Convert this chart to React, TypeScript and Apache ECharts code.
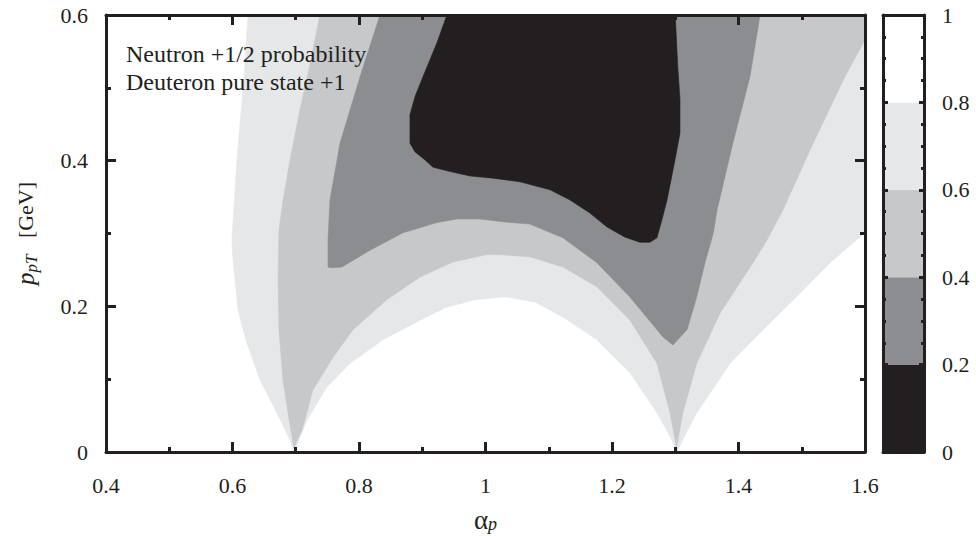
import React, { useEffect, useRef } from 'react';
import * as echarts from 'echarts';

// ---------- data ----------
const X_MIN = 0.4;
const X_MAX = 1.6;
const X_STEP = 0.2;
const Y_MIN = 0;
const Y_MAX = 0.6;
const Y_STEP = 0.2;
const COLORBAR_LEVELS = [0, 0.2, 0.4, 0.6, 0.8, 1];
const ANNOTATION_LINES = ['Neutron +1/2 probability', 'Deuteron pure state +1'];

// region where probability < 0.8  ([alpha_p, p_pT] boundary points)
const BELOW_08: number[][] = [
  [0.697, 0], [0.691, 0.016], [0.670, 0.054], [0.6435, 0.099], [0.621, 0.154],
  [0.6087, 0.195], [0.604, 0.236], [0.6008, 0.264], [0.599, 0.291], [0.607, 0.401],
  [0.618, 0.511], [0.6245, 0.6], [1.6, 0.6], [1.6, 0.301], [1.545, 0.260],
  [1.492, 0.213], [1.439, 0.168], [1.387, 0.122], [1.334, 0.054], [1.312, 0.017],
  [1.303, 0], [1.292, 0.021], [1.271, 0.054], [1.228, 0.109], [1.176, 0.154],
  [1.123, 0.185], [1.078, 0.206], [1.031, 0.213], [0.983, 0.209], [0.936, 0.198],
  [0.892, 0.179], [0.838, 0.154], [0.786, 0.122], [0.749, 0.089], [0.718, 0.044],
];

// region where probability < 0.6
const BELOW_06: number[][] = [
  [0.697, 0.006], [0.6877, 0.054], [0.6798, 0.099], [0.6735, 0.168], [0.672, 0.236],
  [0.6735, 0.305], [0.680, 0.346], [0.691, 0.401], [0.7067, 0.470], [0.7225, 0.532],
  [0.7383, 0.6], [1.6, 0.6], [1.6, 0.566], [1.568, 0.515], [1.518, 0.424],
  [1.470, 0.332], [1.445, 0.291], [1.423, 0.260], [1.371, 0.191], [1.334, 0.122],
  [1.312, 0.054], [1.302, 0.006], [1.2917, 0.054], [1.271, 0.122], [1.2285, 0.181],
  [1.176, 0.227], [1.1225, 0.254], [1.070, 0.268], [1.023, 0.271], [1.002, 0.271],
  [0.9486, 0.261], [0.896, 0.240], [0.844, 0.209], [0.7905, 0.168], [0.759, 0.130],
  [0.727, 0.085], [0.710, 0.030],
];

// region where probability < 0.4
const BELOW_04: number[][] = [
  [0.8332, 0.6], [0.8016, 0.515], [0.770, 0.424], [0.7541, 0.346], [0.751, 0.291],
  [0.751, 0.254], [0.7557, 0.253], [0.773, 0.254], [0.8174, 0.277], [0.8696, 0.301],
  [0.9233, 0.315], [0.955, 0.320], [0.991, 0.320], [1.0277, 0.316], [1.070, 0.313],
  [1.1225, 0.294], [1.176, 0.260], [1.228, 0.213], [1.2806, 0.158], [1.2964, 0.147],
  [1.3186, 0.168], [1.334, 0.213], [1.347, 0.260], [1.360, 0.300], [1.366, 0.332],
  [1.391, 0.424], [1.418, 0.515], [1.434, 0.6],
];

// region where probability < 0.2
const BELOW_02: number[][] = [
  [0.939, 0.6], [0.9233, 0.562], [0.901, 0.515], [0.8886, 0.488], [0.8806, 0.463],
  [0.8806, 0.424], [0.8886, 0.412], [0.9044, 0.401], [0.917, 0.391], [0.944, 0.385],
  [0.9755, 0.379], [1.012, 0.376], [1.0545, 0.371], [1.102, 0.360], [1.1336, 0.346],
  [1.165, 0.328], [1.192, 0.309], [1.2206, 0.295], [1.244, 0.288], [1.260, 0.288],
  [1.271, 0.294], [1.279, 0.319], [1.287, 0.346], [1.2996, 0.401], [1.3075, 0.438],
  [1.3075, 0.484], [1.304, 0.529], [1.300, 0.6],
];

const CONTOURS = [BELOW_08, BELOW_06, BELOW_04, BELOW_02];
const CONTOUR_LEVELS = [0.8, 0.6, 0.4, 0.2];

// ---------- styles ----------
const INK = '#231f20';
const BAND_FILLS = ['#231f20', '#8c8d90', '#c7c8ca', '#e6e7e8', '#ffffff'];
const FONT = 'Liberation Serif, DejaVu Serif, serif';

export default function App() {
  const ref = useRef<HTMLDivElement>(null);

  useEffect(() => {
    if (!ref.current) return;
    const chart = echarts.init(ref.current, undefined, { renderer: 'svg' });

    const axisLine = () => ({ show: true, onZero: false, lineStyle: { color: INK, width: 3 } });
    const mainTick = () => ({ show: true, inside: true, length: 10, lineStyle: { color: INK, width: 3 } });
    const mainMinor = () => ({ show: true, splitNumber: 2, length: 5, lineStyle: { color: INK, width: 3 } });
    const cbTick = () => ({ show: true, inside: true, length: 5, lineStyle: { color: INK, width: 3 } });
    const cbMinor = () => ({ show: true, splitNumber: 4, length: 3, lineStyle: { color: INK, width: 3 } });
    const labelStyle = { color: INK, fontFamily: FONT, fontSize: 22 };
    const noSplit = { show: false };

    const contourSeries = {
      type: 'custom',
      coordinateSystem: 'cartesian2d',
      xAxisIndex: 0,
      yAxisIndex: 0,
      silent: true,
      clip: true,
      z: 1,
      data: CONTOUR_LEVELS.map((lv) => [1.0, lv]),
      renderItem: (params: any, api: any) => {
        const pts = CONTOURS[params.dataIndex].map((p) => api.coord(p));
        const fill = BAND_FILLS[Math.round(CONTOUR_LEVELS[params.dataIndex] / 0.2) - 1];
        return {
          type: 'polygon',
          shape: { points: pts },
          style: { fill, stroke: fill, lineWidth: 0.6 },
        };
      },
    };

    const barSeries = COLORBAR_LEVELS.slice(0, -1).map((lo, i) => ({
      type: 'bar',
      xAxisIndex: 2,
      yAxisIndex: 2,
      stack: 'colorbar',
      silent: true,
      z: 1,
      barWidth: '100%',
      data: [COLORBAR_LEVELS[i + 1] - lo],
      itemStyle: { color: BAND_FILLS[i] },
    }));

    const option: any = {
      animation: false,
      backgroundColor: '#ffffff',
      grid: [
        { left: 106, top: 15, width: 759, height: 437, outerBoundsMode: 'none', containLabel: false },
        { left: 883, top: 15, width: 41, height: 437, outerBoundsMode: 'none', containLabel: false },
      ],
      xAxis: [
        {
          type: 'value', gridIndex: 0, min: X_MIN, max: X_MAX, interval: X_STEP, position: 'bottom',
          axisLine: axisLine(), axisTick: mainTick(), minorTick: mainMinor(), splitLine: noSplit, minorSplitLine: noSplit,
          axisLabel: { ...labelStyle, margin: 22 },
          z: 5,
          name: '{a|α}{s|p}',
          nameLocation: 'middle',
          nameGap: 55,
          nameTextStyle: {
            rich: {
              a: { fontFamily: FONT, fontSize: 27, color: INK, lineHeight: 26 },
              s: { fontFamily: FONT, fontSize: 18, fontStyle: 'italic', color: INK, lineHeight: 18, verticalAlign: 'bottom' },
            },
          },
        },
        {
          type: 'value', gridIndex: 0, min: X_MIN, max: X_MAX, interval: X_STEP, position: 'top',
          axisLine: axisLine(), axisTick: mainTick(), minorTick: mainMinor(), splitLine: noSplit, minorSplitLine: noSplit,
          axisLabel: { show: false }, z: 5,
        },
        {
          type: 'category', gridIndex: 1, data: ['colorbar'], position: 'bottom',
          axisLine: axisLine(), axisTick: { show: false }, axisLabel: { show: false }, splitLine: noSplit, z: 5,
        },
        {
          type: 'category', gridIndex: 1, data: ['colorbar'], position: 'top',
          axisLine: axisLine(), axisTick: { show: false }, axisLabel: { show: false }, splitLine: noSplit, z: 5,
        },
      ],
      yAxis: [
        {
          type: 'value', gridIndex: 0, min: Y_MIN, max: Y_MAX, interval: Y_STEP, position: 'left',
          axisLine: axisLine(), axisTick: mainTick(), minorTick: mainMinor(), splitLine: noSplit, minorSplitLine: noSplit,
          axisLabel: { ...labelStyle, margin: 18 },
          z: 5,
          name: '{p|p}{s|pT}{g|   [GeV]}',
          nameLocation: 'middle',
          nameRotate: 90,
          nameGap: 66,
          nameTextStyle: {
            rich: {
              p: { fontFamily: FONT, fontSize: 25, fontStyle: 'italic', color: INK, lineHeight: 30 },
              s: { fontFamily: FONT, fontSize: 17, fontStyle: 'italic', color: INK, lineHeight: 17, verticalAlign: 'bottom' },
              g: { fontFamily: FONT, fontSize: 22, color: INK, lineHeight: 30 },
            },
          },
        },
        {
          type: 'value', gridIndex: 0, min: Y_MIN, max: Y_MAX, interval: Y_STEP, position: 'right',
          axisLine: axisLine(), axisTick: mainTick(), minorTick: mainMinor(), splitLine: noSplit, minorSplitLine: noSplit,
          axisLabel: { show: false }, z: 5,
        },
        {
          type: 'value', gridIndex: 1, min: 0, max: 1, interval: 0.2, position: 'left',
          axisLine: axisLine(), axisTick: cbTick(), minorTick: cbMinor(), splitLine: noSplit, minorSplitLine: noSplit,
          axisLabel: { show: false }, z: 5,
        },
        {
          type: 'value', gridIndex: 1, min: 0, max: 1, interval: 0.2, position: 'right',
          axisLine: axisLine(), axisTick: cbTick(), minorTick: cbMinor(), splitLine: noSplit, minorSplitLine: noSplit,
          axisLabel: { ...labelStyle, margin: 18 }, z: 5,
        },
      ],
      graphic: [
        {
          type: 'text',
          left: 126,
          top: 40,
          z: 20,
          silent: true,
          style: {
            text: ANNOTATION_LINES.join('\n'),
            fontFamily: FONT,
            fontSize: 24,
            fill: INK,
            lineHeight: 28,
          },
        },
      ],
      series: [contourSeries, ...barSeries],
    };

    chart.setOption(option);
    return () => chart.dispose();
  }, []);

  return (
    <div
      ref={ref}
      style={{ position: 'absolute', left: 0, top: 0, width: 976, height: 536 }}
    />
  );
}
